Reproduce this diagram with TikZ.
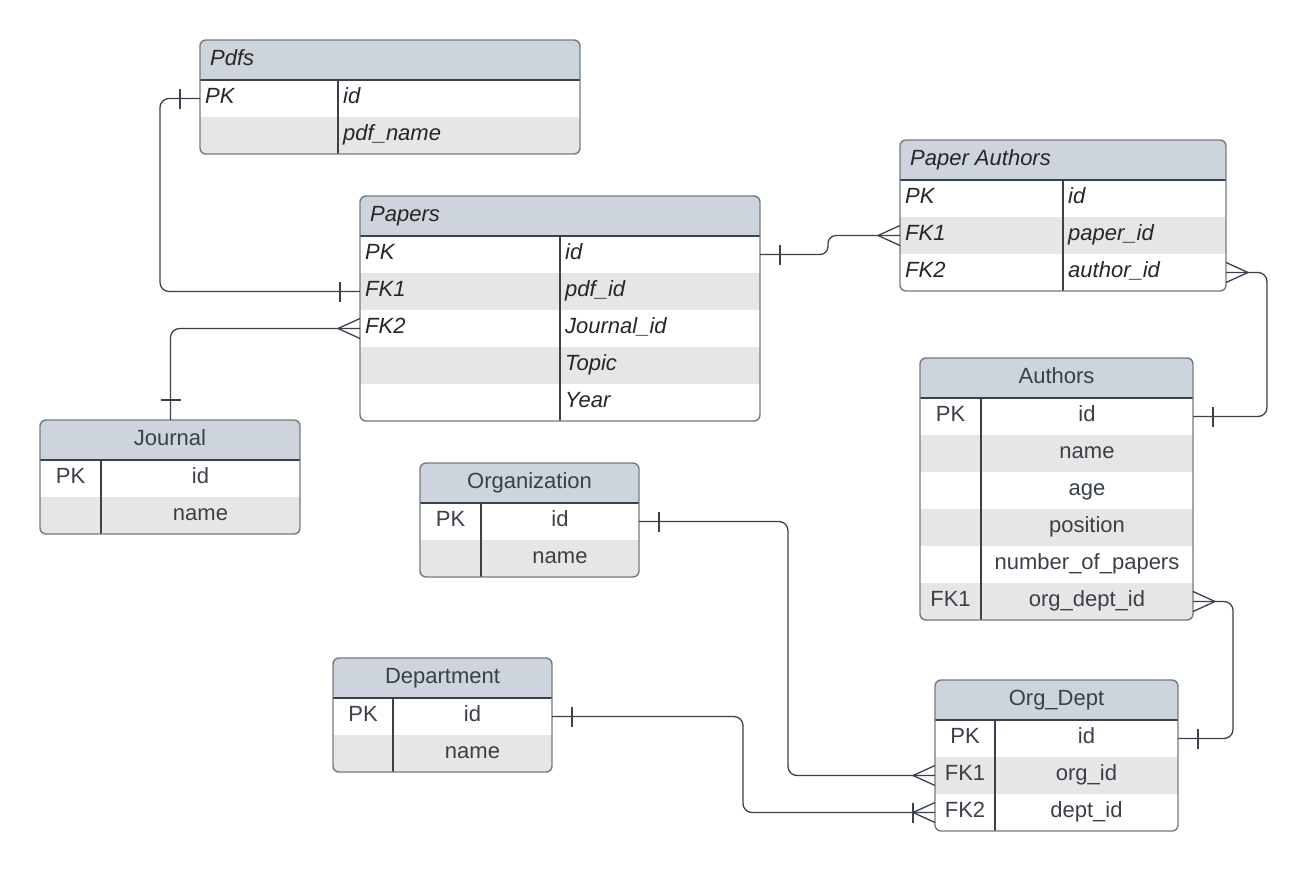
\documentclass[tikz,border=0pt]{standalone}
\usepackage{fontspec}
\setmainfont{Liberation Sans}
\usetikzlibrary{calc}
\definecolor{hdr}{HTML}{CED4DC}
\definecolor{rowgray}{HTML}{E6E6E6}
\definecolor{bordergray}{HTML}{737A84}
\definecolor{lineink}{HTML}{3A414B}
\definecolor{txtdark}{HTML}{262626}
\definecolor{txtslate}{HTML}{3A4049}

\tikzset{
  tablebox/.style={rectangle, draw=bordergray, line width=1.4pt, rounded corners=6pt, inner sep=0pt, outer sep=0pt},
  divline/.style={draw=lineink, line width=1.2pt},
  conn/.style={draw=lineink, line width=1.3pt, rounded corners=9pt},
  sym/.style={draw=lineink, line width=1.3pt},
  itcell/.style={inner sep=0pt, font=\fontsize{22pt}{26pt}\selectfont\itshape, text=txtdark},
  plcell/.style={inner sep=0pt, font=\fontsize{22pt}{26pt}\selectfont, text=txtslate},
}

% #1 id, #2 left, #3 top, #4 right, #5 divider x, #6 title, #7 mode (1 italic-left, 0 centred), #8 rows, #9 number of rows
\newcommand\ertable[9]{%
  \pgfmathsetmacro\tB{#3+40+37*#9}
  \begin{scope}
    \clip[rounded corners=6pt] (#2,#3) rectangle (#4,\tB);
    \fill[white] (#2,#3) rectangle (#4,\tB);
    \fill[hdr] (#2,#3) rectangle (#4,#3+40);
    \foreach \j in {1,...,#9} {
      \ifodd\j\relax\else
        \fill[rowgray] (#2,{#3+40+37*(\j-1)}) rectangle (#4,{#3+40+37*\j});
      \fi
    }
  \end{scope}
  \draw[divline] (#2,#3+40) -- (#4,#3+40);
  \draw[divline] (#5,#3+40) -- (#5,\tB);
  \node[tablebox, minimum width={(#4-#2)*1pt}, minimum height={(\tB-#3)*1pt}, anchor=north west] (#1) at (#2,#3) {};
  \ifnum#7=1
    \node[itcell, anchor=base west] (#1-title) at (#2+10,#3+25) {#6};
  \else
    \node[plcell, anchor=base] (#1-title) at ({(#2+#4)/2},#3+25) {#6};
  \fi
  \foreach [count=\i] \k/\v in {#8} {
    \pgfmathsetmacro\yc{#3+40+37*(\i-1)+18.5}
    \coordinate (#1-\i-w) at (#2,\yc);
    \coordinate (#1-\i-e) at (#4,\yc);
    \ifnum#7=1
      \node[itcell, anchor=base west] (#1-\i-k) at (#2+5,\yc+5) {\k};
      \node[itcell, anchor=base west] (#1-\i-v) at (#5+5,\yc+5) {\v};
    \else
      \node[plcell, anchor=base] (#1-\i-k) at ({(#2+#5)/2},\yc+5) {\k};
      \node[plcell, anchor=base] (#1-\i-v) at ({(#5+#4)/2},\yc+5) {\v};
    \fi
  }
}

\newcommand\crowat[2]{\draw[sym] ($(#1)+(#2*22,0)$) -- ($(#1)+(0,-10)$) ($(#1)+(#2*22,0)$) -- ($(#1)+(0,10)$);}
\newcommand\barat[2]{\draw[sym] ($(#1)+(#2,-10)$) -- ($(#1)+(#2,10)$);}

\begin{document}
\begin{tikzpicture}[x=1pt,y=-1pt]
\useasboundingbox[fill=white] (0,0) rectangle (1307,871);

\ertable{pdfs}{200}{40}{580}{338}{Pdfs}{1}{PK/id, /pdf\_name}{2}
\ertable{papers}{360}{196}{760}{560}{Papers}{1}{PK/id, FK1/pdf\_id, FK2/Journal\_id, /Topic, /Year}{5}
\ertable{pa}{900}{140}{1226}{1063}{Paper Authors}{1}{PK/id, FK1/paper\_id, FK2/author\_id}{3}
\ertable{authors}{920}{358}{1193}{981}{Authors}{0}{PK/id, /name, /age, /position, /number\_of\_papers, FK1/org\_dept\_id}{6}
\ertable{journal}{40}{420}{300}{101}{Journal}{0}{PK/id, /name}{2}
\ertable{org}{420}{463}{639}{481}{Organization}{0}{PK/id, /name}{2}
\ertable{dept}{333}{658}{552}{393}{Department}{0}{PK/id, /name}{2}
\ertable{od}{935}{680}{1178}{995}{Org\_Dept}{0}{PK/id, FK1/org\_id, FK2/dept\_id}{3}

\coordinate (jtop) at ($(journal.north west)+(130.5,0)$);

% Pdfs -- Papers
\draw[conn] (pdfs-1-w) -- ++(-40,0) |- (papers-2-w);
\barat{pdfs-1-w}{-20}
\barat{papers-2-w}{-20}

% Papers -- Journal
\draw[conn] (papers-3-w) -| (jtop);
\crowat{papers-3-w}{-1}
\draw[sym] ($(jtop)+(-10,-20)$) -- ($(jtop)+(10,-20)$);

% Papers -- Paper Authors
\draw[conn, rounded corners=8pt] (papers-1-e) -- ++(68,0) |- (pa-2-w);
\barat{papers-1-e}{20}
\crowat{pa-2-w}{-1}

% Paper Authors -- Authors
\draw[conn] (pa-3-e) -- ++(41,0) |- (authors-1-e);
\crowat{pa-3-e}{1}
\barat{authors-1-e}{20}

% Authors -- Org_Dept
\draw[conn] (authors-6-e) -- ++(40,0) |- (od-1-e);
\crowat{authors-6-e}{1}
\barat{od-1-e}{20}

% Organization -- Org_Dept
\draw[conn] (org-1-e) -- ++(149,0) |- (od-2-w);
\barat{org-1-e}{20}
\crowat{od-2-w}{-1}

% Department -- Org_Dept
\draw[conn] (dept-1-e) -- ++(191,0) |- (od-3-w);
\barat{dept-1-e}{20}
\crowat{od-3-w}{-1}
\barat{od-3-w}{-22}
\end{tikzpicture}
\end{document}
